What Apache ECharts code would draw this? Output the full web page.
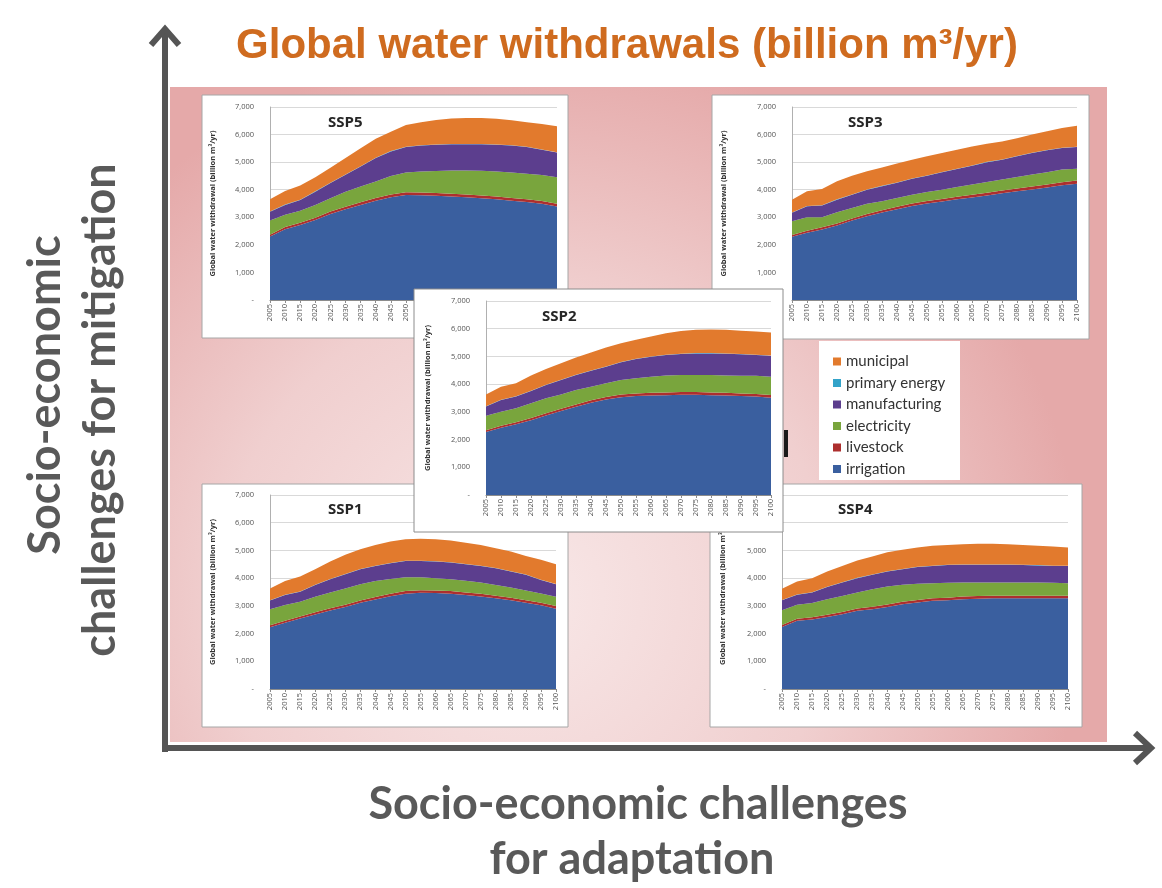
<!DOCTYPE html>
<html><head><meta charset="utf-8">
<script src="https://cdn.jsdelivr.net/npm/echarts@6/dist/echarts.min.js"></script>
<style>html,body{margin:0;padding:0;background:#fff}#c{width:1162px;height:888px}</style>
</head><body><div id="c"></div>
<script>
// ---------- categories ----------
const years = ['2005','2010','2015','2020','2025','2030','2035','2040','2045','2050','2055','2060','2065','2070','2075','2080','2085','2090','2095','2100'];
const sectors = ['irrigation','livestock','electricity','manufacturing','primary energy','municipal'];
const legendOrder = ['municipal','primary energy','manufacturing','electricity','livestock','irrigation'];
const yTicks = [0,1000,2000,3000,4000,5000,6000,7000];

// ---------- data (billion m3/yr, per sector) ----------
const ssp5Irrigation   = [2300,2570,2720,2900,3120,3290,3450,3600,3730,3810,3800,3780,3750,3730,3690,3650,3600,3550,3490,3390];
const ssp5Livestock    = [70,75,80,85,90,90,95,95,100,100,100,100,100,100,100,100,100,100,100,100];
const ssp5Electricity  = [510,445,440,465,480,550,575,605,670,710,760,800,850,870,900,910,920,930,940,960];
const ssp5Manufacturing= [320,360,390,480,550,610,720,850,890,930,940,950,950,950,960,970,980,970,920,900];
const ssp5Primary      = [10,10,10,10,10,10,10,10,10,10,10,10,10,10,10,10,10,10,10,10];
const ssp5Municipal    = [440,490,510,510,550,600,650,690,700,790,840,890,920,940,940,930,910,890,920,940];

const ssp3Irrigation   = [2290,2440,2560,2700,2880,3040,3170,3290,3410,3500,3570,3650,3720,3790,3870,3940,4010,4080,4160,4220];
const ssp3Livestock    = [70,72,75,78,80,82,85,88,90,92,95,98,100,102,104,106,108,110,112,115];
const ssp3Electricity  = [500,488,365,402,380,368,325,322,320,328,335,352,370,388,396,414,432,440,458,425];
const ssp3Manufacturing= [300,400,430,460,480,510,550,550,580,590,630,650,680,720,720,750,780,800,780,790];
const ssp3Primary      = [10,10,10,10,10,10,10,10,10,10,10,10,10,10,10,10,10,10,10,10];
const ssp3Municipal    = [470,530,590,660,680,660,670,690,680,690,690,690,690,660,650,650,660,680,720,760];

const ssp2Irrigation   = [2270,2430,2550,2700,2870,3030,3180,3330,3450,3530,3570,3590,3600,3620,3620,3600,3590,3570,3550,3510];
const ssp2Livestock    = [70,72,75,78,80,82,85,88,90,92,95,95,95,95,95,95,95,95,95,95];
const ssp2Electricity  = [520,498,505,532,540,518,525,492,490,528,545,585,615,615,615,635,625,635,655,665];
const ssp2Manufacturing= [330,430,420,440,480,520,540,570,600,640,700,720,740,760,780,780,790,780,750,750];
const ssp2Primary      = [10,10,10,10,10,10,10,10,10,10,10,10,10,10,10,10,10,10,10,10];
const ssp2Municipal    = [430,470,470,550,570,590,620,650,680,680,680,720,780,820,840,850,850,840,840,830];

const ssp1Irrigation   = [2230,2390,2540,2690,2830,2960,3110,3230,3350,3440,3470,3460,3440,3390,3340,3270,3200,3110,3020,2900];
const ssp1Livestock    = [70,72,75,78,80,82,85,88,90,92,95,95,95,95,95,95,95,95,95,95];
const ssp1Electricity  = [580,568,535,562,570,588,585,582,530,498,465,445,425,425,405,385,365,345,335,335];
const ssp1Manufacturing= [310,360,360,420,480,510,540,540,570,590,590,600,600,590,600,610,580,570,480,450];
const ssp1Primary      = [10,10,10,10,10,10,10,10,10,10,10,10,10,10,10,10,10,10,10,10];
const ssp1Municipal    = [430,500,540,560,630,690,710,750,770,770,790,790,790,770,750,710,710,670,720,710];

const ssp4Irrigation   = [2240,2460,2510,2600,2700,2820,2880,2960,3060,3120,3180,3200,3240,3260,3270,3270,3270,3270,3270,3270];
const ssp4Livestock    = [70,72,75,78,80,82,85,88,90,92,95,95,95,95,95,95,95,95,95,95];
const ssp4Electricity  = [530,508,515,562,580,578,635,652,610,588,545,535,505,485,475,475,475,475,465,455];
const ssp4Manufacturing= [360,360,380,440,480,520,520,540,560,600,620,640,640,640,640,640,630,620,610,620];
const ssp4Primary      = [10,10,10,10,10,10,10,10,10,10,10,10,10,10,10,10,10,10,10,10];
const ssp4Municipal    = [410,470,510,550,590,630,650,680,690,700,720,720,730,750,750,730,720,700,690,660];

// ---------- styling / layout ----------
const sectorColors = {
  'irrigation':'#3a5f9f','livestock':'#ad2f2e','electricity':'#79a53d',
  'manufacturing':'#5c3e8e','primary energy':'#33a3c9','municipal':'#e27a2d'
};
const scenarioData = {
  SSP5:[ssp5Irrigation,ssp5Livestock,ssp5Electricity,ssp5Manufacturing,ssp5Primary,ssp5Municipal],
  SSP3:[ssp3Irrigation,ssp3Livestock,ssp3Electricity,ssp3Manufacturing,ssp3Primary,ssp3Municipal],
  SSP1:[ssp1Irrigation,ssp1Livestock,ssp1Electricity,ssp1Manufacturing,ssp1Primary,ssp1Municipal],
  SSP4:[ssp4Irrigation,ssp4Livestock,ssp4Electricity,ssp4Manufacturing,ssp4Primary,ssp4Municipal],
  SSP2:[ssp2Irrigation,ssp2Livestock,ssp2Electricity,ssp2Manufacturing,ssp2Primary,ssp2Municipal]
};
const panels = [
  {name:'SSP5', box:[202,95,366,243], grid:{left:270,top:107,width:287,height:193}, title:[328,123], gap:53, zb:1},
  {name:'SSP3', box:[712,95,377,244], grid:{left:792,top:107,width:285,height:193}, title:[848,123], gap:64, zb:1},
  {name:'SSP1', box:[202,484,366,243], grid:{left:270,top:495,width:286,height:194}, title:[328,510], gap:53, zb:1},
  {name:'SSP4', box:[710,484,372,243], grid:{left:782,top:495,width:286,height:194}, title:[838,510], gap:55, zb:1},
  {name:'SSP2', box:[414,289,369,243], grid:{left:486,top:301,width:285,height:194}, title:[542,317], gap:54, zb:10}
];
const yName = 'Global water withdrawal (billion m\u00b3/yr)';

const grids=[], xAxes=[], yAxes=[], series=[], graphics=[];

// pink background
graphics.push({type:'rect', z:0, shape:{x:170,y:87,width:937,height:655},
  style:{fill:new echarts.graphic.RadialGradient(0.38,0.78,0.85,[{offset:0,color:'#f8e7e7'},{offset:0.55,color:'#f0cfcf'},{offset:1,color:'#e5a9a9'}])}});
// arrows
const arrowColor='#555555';
graphics.push({type:'polyline', z:1, shape:{points:[[165,752],[165,32]]}, style:{stroke:arrowColor,lineWidth:6,fill:null}});
graphics.push({type:'polyline', z:1, shape:{points:[[151,45],[165,29],[179,45]]}, style:{stroke:arrowColor,lineWidth:6,fill:null,lineJoin:'miter'}});
graphics.push({type:'polyline', z:1, shape:{points:[[162,748],[1148,748]]}, style:{stroke:arrowColor,lineWidth:6,fill:null}});
graphics.push({type:'polyline', z:1, shape:{points:[[1135,733],[1151,748],[1135,763]]}, style:{stroke:arrowColor,lineWidth:6,fill:null,lineJoin:'miter'}});
// titles / axis texts
const bigFont = 'bold 45px Lato, sans-serif';
graphics.push({type:'text', z:1, x:627, y:46, style:{text:'Global water withdrawals (billion m\u00b3/yr)', textAlign:'center', textVerticalAlign:'middle', align:'center', verticalAlign:'middle', font:'bold 42px "Liberation Sans", Arial, sans-serif', fill:'#cf6b1f'}});
graphics.push({type:'text', z:1, x:45, y:395, rotation:Math.PI/2, style:{text:'Socio-economic', textAlign:'center', textVerticalAlign:'middle', align:'center', verticalAlign:'middle', font:bigFont, fill:'#595959'}});
graphics.push({type:'text', z:1, x:100, y:410, rotation:Math.PI/2, style:{text:'challenges for mitigation', textAlign:'center', textVerticalAlign:'middle', align:'center', verticalAlign:'middle', font:bigFont, fill:'#595959'}});
graphics.push({type:'text', z:1, x:638, y:804, style:{text:'Socio-economic challenges', textAlign:'center', textVerticalAlign:'middle', align:'center', verticalAlign:'middle', font:bigFont, fill:'#595959'}});
graphics.push({type:'text', z:1, x:632, y:859, style:{text:'for adaptation', textAlign:'center', textVerticalAlign:'middle', align:'center', verticalAlign:'middle', font:bigFont, fill:'#595959'}});

panels.forEach((p,i)=>{
  const zb=p.zb;
  graphics.push({type:'rect', z:zb, shape:{x:p.box[0],y:p.box[1],width:p.box[2],height:p.box[3]},
    style:{fill:'#ffffff', stroke: zb>5 ? '#8c8c8c':'#a6a6a6', lineWidth:1}});
  graphics.push({type:'text', z:zb+3, x:p.title[0], y:p.title[1], style:{text:p.name, textVerticalAlign:'middle', verticalAlign:'middle', font:'bold 15px "Open Sans", sans-serif', fill:'#262626'}});
  grids.push(Object.assign({containLabel:false}, p.grid));
  xAxes.push({type:'category', gridIndex:i, data:years, boundaryGap:false, z:zb+1,
    axisLine:{lineStyle:{color:'#8c8c8c',width:1}},
    axisTick:{show:true,interval:0,length:3,lineStyle:{color:'#8c8c8c'}},
    axisLabel:{rotate:90, interval:0, fontSize:7.5, color:'#555', margin:4, fontFamily:'"Open Sans", sans-serif'},
    splitLine:{show:false}});
  yAxes.push({type:'value', gridIndex:i, min:0, max:7000, interval:1000, z:zb+1,
    axisLine:{show:true,lineStyle:{color:'#b0b0b0'}}, axisTick:{show:false},
    splitLine:{lineStyle:{color:'#d9d9d9',width:1}},
    axisLabel:{fontSize:7.5, color:'#555', margin:16, fontFamily:'"Open Sans", sans-serif',
      formatter:v=> v===0 ? '-' : v.toLocaleString('en-US')},
    name:yName, nameLocation:'middle', nameGap:p.gap, nameRotate:90,
    nameTextStyle:{fontSize:7.5, fontWeight:'bold', color:'#333', fontFamily:'"Open Sans", sans-serif'}});
  const d = scenarioData[p.name];
  sectors.forEach((s,k)=>{
    series.push({type:'line', name:s, xAxisIndex:i, yAxisIndex:i, stack:p.name, data:d[k],
      symbol:'none', showSymbol:false, silent:true, z:zb+2,
      lineStyle:{width:0}, itemStyle:{color:sectorColors[s]},
      areaStyle:{color:sectorColors[s], opacity:1}});
  });
});

// legend box + artefact bar
graphics.push({type:'rect', z:20, shape:{x:819,y:341,width:141,height:139}, style:{fill:'#ffffff'}});
graphics.push({type:'rect', z:20, shape:{x:784,y:430,width:4,height:27}, style:{fill:'#1a1a1a'}});

const option = {
  animation:false,
  backgroundColor:'#ffffff',
  grid:grids, xAxis:xAxes, yAxis:yAxes, series:series,
  legend:{orient:'vertical', left:828, top:349, itemWidth:8, itemHeight:8, itemGap:6.5, icon:'rect',
    selectedMode:false, z:25, data:legendOrder,
    textStyle:{fontSize:15, color:'#333', fontFamily:'Lato, sans-serif'}},
  graphic:{elements:graphics}
};
const chart = echarts.init(document.getElementById('c'));
chart.setOption(option);
</script></body></html>
